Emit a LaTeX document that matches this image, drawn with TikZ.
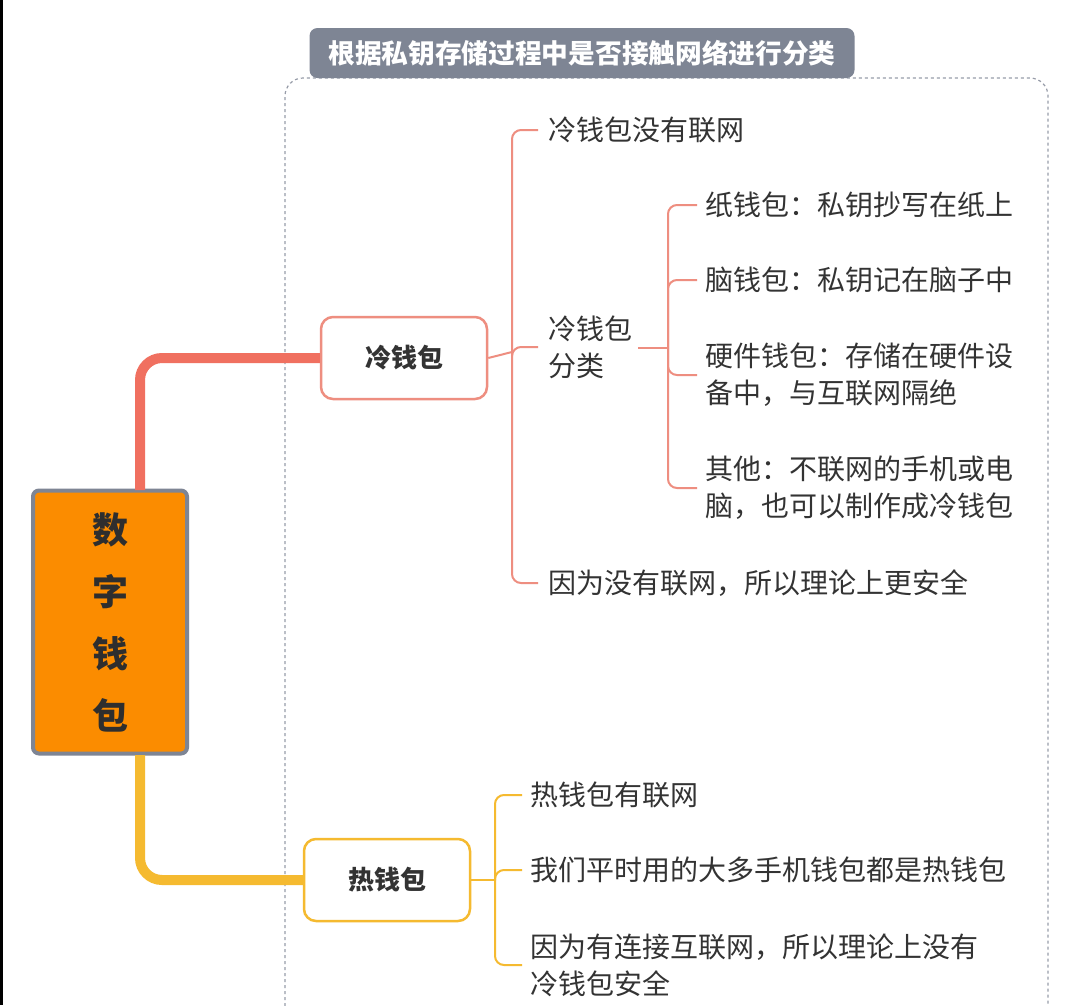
\documentclass[tikz,border=0pt]{standalone}
\usepackage{fontspec}
\setmainfont{Noto Sans CJK SC}
\usetikzlibrary{positioning}
\definecolor{txt}{HTML}{333333}
\definecolor{redc}{HTML}{F07060}
\definecolor{redl}{HTML}{EE8E80}
\definecolor{yel}{HTML}{F5BA30}
\definecolor{tabg}{HTML}{7E8594}
\definecolor{org}{HTML}{FB8C00}
\tikzset{
  item/.style={anchor=west,font=\fontsize{28}{37}\selectfont,text=txt,align=left,inner sep=0pt},
  catbox/.style={draw,line width=2.5pt,rounded corners=12pt,fill=white,minimum width=166pt,minimum height=82pt,font=\fontsize{26}{30}\selectfont\bfseries,text=txt},
  br/.style={line width=2pt,rounded corners=9pt}
}
\begin{document}
\begin{tikzpicture}[x=1pt,y={(0,-1pt)}]
\useasboundingbox (0,0) rectangle (1080,1005);
\fill[white] (0,0) rectangle (1080,1005);
\draw[black,line width=3pt] (1,0) -- (1,1005);
% dashed area
\draw[tabg!80,dashed,line width=1.2pt,rounded corners=18pt] (285,1030) -- (285,78) -- (1048,78) -- (1048,1030);
\node[fill=tabg,rounded corners=8pt,minimum width=545pt,minimum height=50pt,text=white,font=\fontsize{26.7}{30}\selectfont\bfseries] (tab) at (582,53) {根据私钥存储过程中是否接触网络进行分类};
% main
\node[fill=org,draw=tabg,line width=4pt,rounded corners=6pt,minimum width=154pt,minimum height=263pt,align=center,text=txt!90!black,font=\fontsize{36}{62}\selectfont\bfseries] (main) at (110,622) {数\\字\\钱\\包};
\node[catbox,draw=redl] (cold) at (404,358) {冷钱包};
\node[catbox,draw=yel] (hot) at (387,880) {热钱包};
\draw[redc,line width=10pt,rounded corners=22pt] (140,490) -- (140,358) -- (cold.west);
\draw[yel,line width=10pt,rounded corners=22pt] (140,755) -- (140,880) -- (hot.west);
% cold items
\node[item] (c1) at (548,130) {冷钱包没有联网};
\node[item] (c2) at (548,347) {冷钱包\\分类};
\node[item] (c3) at (548,583) {因为没有联网，所以理论上更安全};
\node[item] (d1) at (705,205) {纸钱包：私钥抄写在纸上};
\node[item] (d2) at (705,280) {脑钱包：私钥记在脑子中};
\node[item] (d3) at (705,375) {硬件钱包：存储在硬件设\\备中，与互联网隔绝};
\node[item] (d4) at (705,488) {其他：不联网的手机或电\\脑，也可以制作成冷钱包};
\coordinate (hc) at (512,352);
\coordinate (hd) at (668,348);
\draw[br,redl] (cold.east) -- (hc);
\foreach \n in {c1,c2,c3}{\draw[br,redl] (hc) |- ([xshift=-10pt]\n.west);}
\draw[br,redl] (c2.east |- hd) ++(6,0) -- (hd);
\foreach \n in {d1,d2,d3,d4}{\draw[br,redl] (hd) |- ([xshift=-8pt]\n.west);}
% hot items
\node[item] (h1) at (530,795) {热钱包有联网};
\node[item] (h2) at (530,870) {我们平时用的大多手机钱包都是热钱包};
\node[item] (h3) at (530,965) {因为有连接互联网，所以理论上没有\\冷钱包安全};
\coordinate (hh) at (495,880);
\draw[br,yel] (hot.east) -- (hh);
\foreach \n in {h1,h2,h3}{\draw[br,yel] (hh) |- ([xshift=-8pt]\n.west);}
\end{tikzpicture}
\end{document}
